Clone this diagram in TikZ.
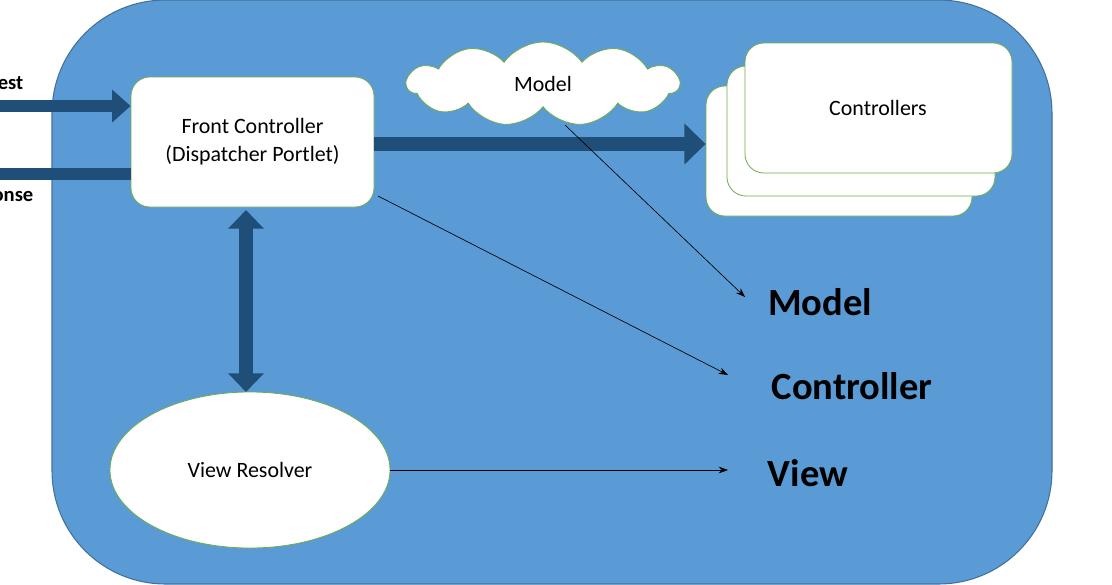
\documentclass[tikz,border=0pt]{standalone}
\usepackage{fontspec}
\setmainfont{Carlito}
\usetikzlibrary{shapes.symbols,shapes.geometric,arrows.meta}
\definecolor{bg}{HTML}{5B9BD5}
\definecolor{bgb}{HTML}{41719C}
\definecolor{dk}{HTML}{1F4E79}
\definecolor{gr}{HTML}{70AD47}
\newdimen\pxu \pxu=0.0264583cm
\begin{document}
\begin{tikzpicture}[x=0.0264583cm,y=-0.0264583cm,
 wbox/.style={draw=gr,fill=white,rounded corners=0.5cm,line width=0.6pt},
 txt/.style={font=\fontsize{16.5}{21}\selectfont},
 big/.style={font=\fontsize{29}{33}\selectfont\bfseries},
 thin/.style={-{Stealth[length=7pt,width=5pt]},line width=0.5pt},
 fat/.style={dk,-{Triangle[length=16pt,width=30pt]},line width=11pt}]
\useasboundingbox (0,0) rectangle (1112,584);
\clip (0,0) rectangle (1112,584);
\fill[white] (0,0) rectangle (1112,584);
\draw[fill=bg,draw=bgb,line width=0.8pt,rounded corners=3cm] (52,0) rectangle (1052,584);
\node[wbox,minimum width=243\pxu, minimum height=130\pxu,align=center,txt] (fc) at (252.5,142) {Front Controller\\(Dispatcher Portlet)};
\node[draw=gr,fill=white,ellipse,line width=0.6pt,minimum width=280\pxu, minimum height=156\pxu,txt] (vr) at (250,470) {View Resolver};
\node[draw=gr,fill=white,cloud,cloud puffs=11,cloud puff arc=110,aspect=3.3,line width=0.6pt,minimum width=272\pxu, minimum height=84\pxu,txt,inner sep=0pt] (cl) at (543,84) {Model};
\node[wbox,minimum width=266\pxu, minimum height=130\pxu] (c3) at (839,151) {};
\node[wbox,minimum width=268\pxu, minimum height=130\pxu] (c2) at (861,131) {};
\node[wbox,minimum width=267\pxu, minimum height=130\pxu] (c1) at (878.5,108) {};
\node[txt] (ct) at (878,108) {Controllers};
\node[big] (m) at (820,302) {Model};
\node[big] (c) at (852,386) {Controller};
\node[big] (v) at (808,473) {View};
\node[anchor=east,font=\fontsize{15.5}{18}\selectfont\bfseries] (rq) at (28,84) {Request};
\node[anchor=east,font=\fontsize{15.5}{18}\selectfont\bfseries] (rs) at (38,196) {Response};
\coordinate (rqs) at (0,106);
\coordinate (rss) at (0,174);
\coordinate (da) at (246,210);
\coordinate (db) at (246,392);
\draw[dk,line width=9pt,-{Triangle[length=14pt,width=24pt]}] (rqs) -- (fc.west|-rqs);
\draw[dk,line width=9pt] (fc.west|-rss) -- (rss);
\draw[fat] (fc.east|-0,144) -- (c3.west|-0,144);
\draw[dk,line width=10pt,{Triangle[length=14pt,width=26pt]}-{Triangle[length=14pt,width=26pt]}] (da) -- (db);
\draw[thin] (565,125) -- (745,297);
\draw[thin] (378,196) -- (728,375);
\draw[thin] (vr.east) -- (728,470);
\end{tikzpicture}
\end{document}
